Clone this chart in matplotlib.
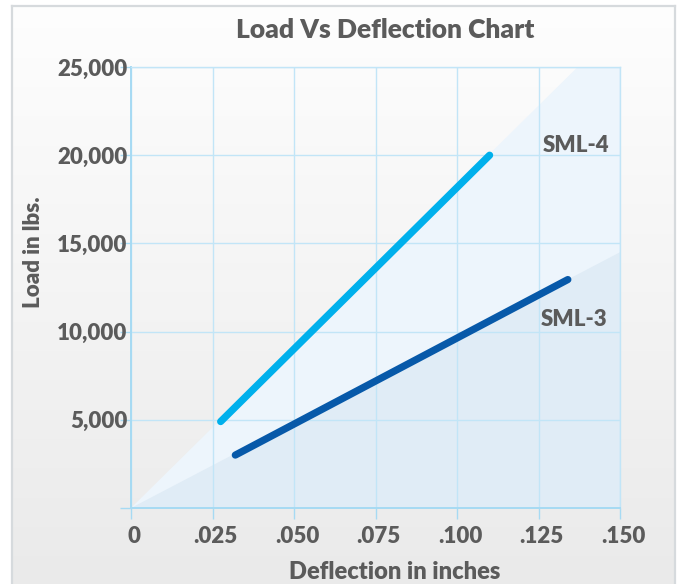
import matplotlib
matplotlib.use("Agg")
import matplotlib.pyplot as plt
import matplotlib.patches as mpatches
import matplotlib.transforms as mtransforms
import numpy as np

# data
sml4_x = [0.0275, 0.110]
sml4_y = [4900, 20000]
sml3_x = [0.032, 0.134]
sml3_y = [3000, 12950]
x_ticks = [0, 0.025, 0.050, 0.075, 0.100, 0.125, 0.150]
x_labels = ["0", ".025", ".050", ".075", ".100", ".125", ".150"]
y_ticks = [0, 5000, 10000, 15000, 20000, 25000]
y_labels = ["", "5,000", "10,000", "15,000", "20,000", "25,000"]
# background wedges
wedge_hi = [(0, 0), (0.137, 25000), (0.150, 25000), (0.150, 0)]
wedge_lo = [(0, 0), (0.150, 14500), (0.150, 0)]

plt.rcParams["font.family"] = ["Lato", "DejaVu Sans"]
plt.rcParams["font.weight"] = "heavy"
txt = "#5b5b5b"
grid_c = "#c2e5f7"
spine_c = "#a6daf3"

W, H = 681, 584
fig = plt.figure(figsize=(W / 100, H / 100), dpi=100)
fig.patch.set_facecolor("white")

# gradient panel with frame
bg = fig.add_axes([12 / W, 0, (675 - 12) / W, 1 - 6 / H])
grad = np.linspace(0, 1, 256).reshape(-1, 1)
top = np.array([0.995, 0.995, 0.995])
bot = np.array([0.918, 0.918, 0.918])
img = top + (bot - top) * grad[:, :, None]
bg.imshow(img, aspect="auto", extent=[0, 1, 0, 1], origin="upper")
bg.set_xticks([])
bg.set_yticks([])
for s in bg.spines.values():
    s.set_color("#d6dadd")
    s.set_linewidth(1.6)
bg.spines["bottom"].set_visible(False)
bg.set_zorder(0)

ax = fig.add_axes([131 / W, 1 - 508 / H, (620 - 131) / W, (508 - 67) / H])
ax.set_zorder(1)
ax.patch.set_alpha(0)
ax.add_patch(mpatches.Polygon(wedge_hi, closed=True, fc="#edf5fc", ec="none", zorder=0))
ax.add_patch(mpatches.Polygon(wedge_lo, closed=True, fc="#e0ecf6", ec="none", zorder=0))
ax.set_xlim(0, 0.150)
ax.set_ylim(0, 25000)
ax.set_xticks(x_ticks)
ax.set_xticklabels(x_labels)
ax.set_yticks(y_ticks)
ax.set_yticklabels(y_labels)
ax.grid(True, color=grid_c, lw=1, zorder=0.5)
ax.set_axisbelow(True)
for s in ax.spines.values():
    s.set_color(grid_c)
    s.set_linewidth(1)
ax.spines["left"].set_color(spine_c)
ax.spines["bottom"].set_color(spine_c)
ax.spines["left"].set_linewidth(1.4)
ax.spines["bottom"].set_linewidth(1.4)
ax.tick_params(axis="both", direction="out", length=8, width=1, color=spine_c,
               labelcolor=txt, labelsize=16)
ax.tick_params(axis="y", pad=-5.5)
ax.tick_params(axis="x", pad=5)
off = mtransforms.ScaledTranslation(3 / 100, 0, fig.dpi_scale_trans)
for lab in ax.get_xticklabels():
    lab.set_transform(lab.get_transform() + off)

ax.plot(sml4_x, sml4_y, color="#00b0ec", lw=5.2, solid_capstyle="round", zorder=3)
ax.plot(sml3_x, sml3_y, color="#0759a9", lw=5.2, solid_capstyle="round", zorder=3)
ax.text(0.1366, 20555, "SML-4", ha="center", va="center", color=txt, fontsize=16)
ax.text(0.1360, 10700, "SML-3", ha="center", va="center", color=txt, fontsize=16)

fig.text(385 / W, 1 - 30 / H, "Load Vs Deflection Chart", ha="center", va="center",
         color=txt, fontsize=19)
fig.text(395 / W, 1 - 572 / H, "Deflection in inches", ha="center", va="center",
         color=txt, fontsize=17)
fig.text(34 / W, 1 - 252 / H, "Load in lbs.", ha="center", va="center",
         rotation=90, color=txt, fontsize=16)

fig.savefig("out.png", dpi=100)
